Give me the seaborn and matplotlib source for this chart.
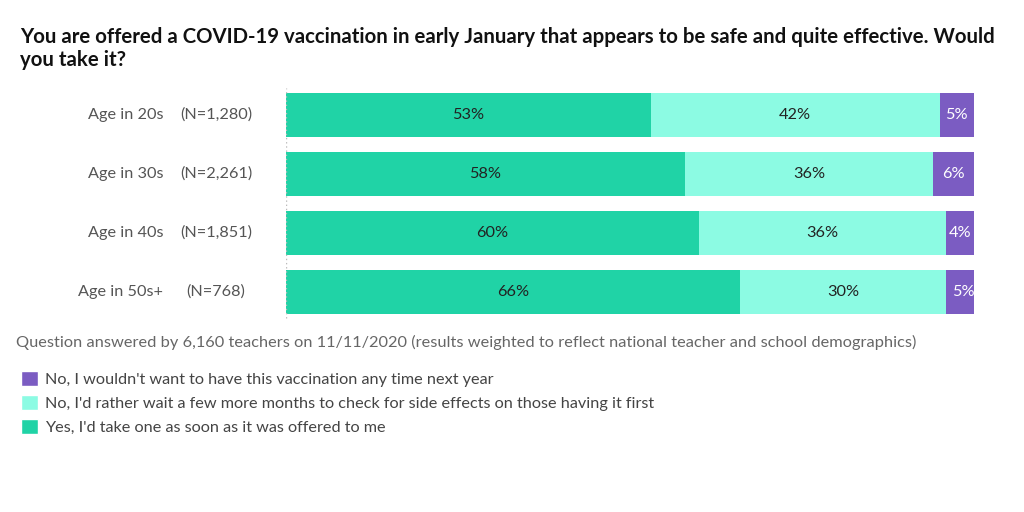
import matplotlib
matplotlib.use("Agg")
import matplotlib.pyplot as plt
import seaborn as sns
import pandas as pd
import numpy as np
from matplotlib.patches import Patch

ages = ["Age in 20s", "Age in 30s", "Age in 40s", "Age in 50s+"]
ns = ["(N=1,280)", "(N=2,261)", "(N=1,851)", "(N=768)"]
yes_now = [53, 58, 60, 66]
wait = [42, 36, 36, 30]
no_never = [5, 6, 4, 5]
series_names = [
    "Yes, I'd take one as soon as it was offered to me",
    "No, I'd rather wait a few more months to check for side effects on those having it first",
    "No, I wouldn't want to have this vaccination any time next year",
]
colors = ["#20d3a6", "#8cfbe3", "#7b5cc2"]
title = "You are offered a COVID-19 vaccination in early January that appears to be safe and quite effective. Would\nyou take it?"
note = "Question answered by 6,160 teachers on 11/11/2020 (results weighted to reflect national teacher and school demographics)"

sns.set_theme(style="white")
plt.rcParams['font.family'] = ['Lato', 'DejaVu Sans']

df = pd.DataFrame({"age": ages, "yes": yes_now, "wait": wait, "no": no_never})
df["c1"] = df["yes"]
df["c2"] = df["yes"] + df["wait"]
df["c3"] = df["c2"] + df["no"]

fig = plt.figure(figsize=(10.24, 5.12), dpi=100)
W, H = 1024, 512
top_px, bot_px = 85.5, 321.5
ax = fig.add_axes([286 / W, 1 - bot_px / H, (974 - 286) / W, (bot_px - top_px) / H])

for col, c in zip(["c3", "c2", "c1"], [colors[2], colors[1], colors[0]]):
    sns.barplot(data=df, x=col, y="age", color=c, orient="h", width=0.746,
                saturation=1, ax=ax, linewidth=0)

ax.set_xlim(0, 100)
ax.set_ylim(3.5, -0.5)
ax.set_xlabel("")
ax.set_ylabel("")
ax.set_xticks([])
ax.set_yticks(range(len(ages)))
ax.set_yticklabels([])
ax.tick_params(left=False)
for s in ax.spines.values():
    s.set_visible(False)
ax.axvline(0, ymin=0.015, ymax=0.99, ls=(0, (1, 2)), color="#bbbbbb", lw=1)

fs = 11.7
for i in range(len(ages)):
    starts = [0, yes_now[i], yes_now[i] + wait[i]]
    vals = [yes_now[i], wait[i], no_never[i]]
    tcol = ["#222222", "#222222", "white"]
    for st, v, tc in zip(starts, vals, tcol):
        ax.text(st + v / 2, i, f"{v}%", ha="center", va="center", fontsize=fs, color=tc)
    ax.text((163 - 286) / 688, i, ages[i], transform=ax.get_yaxis_transform(),
            ha="right", va="center", fontsize=fs, color="#555555")
    ax.text((216 - 286) / 688, i, ns[i], transform=ax.get_yaxis_transform(),
            ha="center", va="center", fontsize=fs, color="#555555")

fig.text(20 / W, 1 - 27 / H, title, ha="left", va="top", fontsize=14.65,
         fontweight="bold", color="#111111", linespacing=1.2)
fig.text(16 / W, 1 - 342 / H, note, ha="left", va="center", fontsize=11.75, color="#666666")

handles = [Patch(facecolor=colors[2]), Patch(facecolor=colors[1]), Patch(facecolor=colors[0])]
labels = [series_names[2], series_names[1], series_names[0]]
fig.legend(handles, labels, loc="upper left", bbox_to_anchor=(14 / W, 1 - 364 / H),
           frameon=False, fontsize=11.7, handlelength=1.05, handleheight=1.05,
           handletextpad=0.45, labelspacing=0.5, labelcolor="#444444", borderaxespad=0)

fig.savefig("out.png", dpi=100, facecolor="white")
